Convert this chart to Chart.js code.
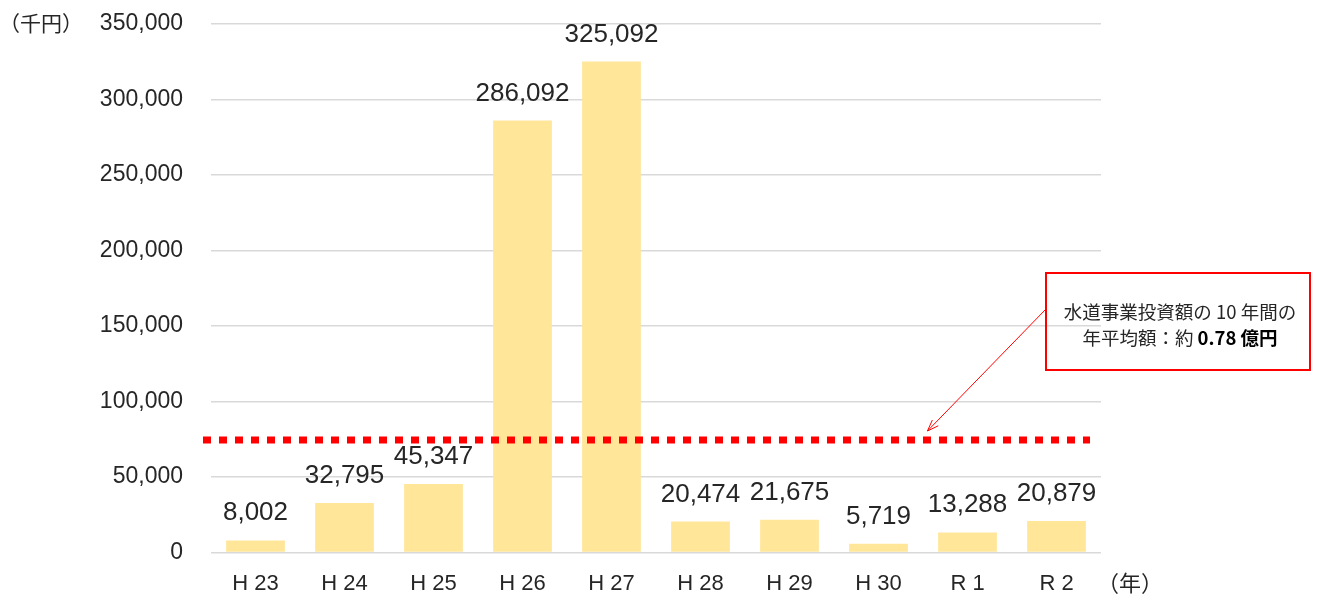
<!DOCTYPE html>
<html lang="ja">
<head>
<meta charset="utf-8">
<title>水道事業投資額</title>
<script src="https://cdn.jsdelivr.net/npm/chart.js@4/dist/chart.umd.min.js"></script>
<style>
  html, body { margin: 0; padding: 0; background: #fff; }
  #wrap { width: 1321px; height: 599px; position: relative; }
</style>
</head>
<body>
<div id="wrap"><canvas id="invChart" width="1321" height="599"></canvas></div>
<script>
// 年度ラベル
const years = ["H 23", "H 24", "H 25", "H 26", "H 27", "H 28", "H 29", "H 30", "R 1", "R 2"];
// 投資額（千円）
const amounts = [8002, 32795, 45347, 286092, 325092, 20474, 21675, 5719, 13288, 20879];
// 平均額の点線（図から読んだ位置）
const avgLineValue = [74500];
// y軸目盛
const yTicks = [0, 50000, 100000, 150000, 200000, 250000, 300000, 350000];

const NUM_FONT = "'Liberation Sans', Arial, sans-serif";
const JP_FONT = "'Noto Sans CJK JP', 'Noto Sans', sans-serif";
const TEXT_COLOR = "#262626";

// 棒の上に値を表示
const valueLabels = {
  id: "valueLabels",
  afterDatasetsDraw(chart) {
    const c = chart.ctx;
    const meta = chart.getDatasetMeta(0);
    c.save();
    c.font = "26px " + NUM_FONT;
    c.fillStyle = TEXT_COLOR;
    c.textAlign = "center";
    c.textBaseline = "alphabetic";
    meta.data.forEach((bar, i) => {
      c.fillText(amounts[i].toLocaleString("en-US"), bar.x, bar.y - 20);
    });
    c.restore();
  }
};

// 平均額の赤い点線と注記
const avgNote = {
  id: "avgNote",
  afterDatasetsDraw(chart) {
    const c = chart.ctx;
    const area = chart.chartArea;
    const y = chart.scales.y.getPixelForValue(avgLineValue[0]);
    c.save();
    c.strokeStyle = "#ff0000";
    c.lineWidth = 7;
    c.setLineDash([8, 8]);
    c.beginPath();
    c.moveTo(area.left - 8, y);
    c.lineTo(area.right - 11, y);
    c.stroke();
    c.setLineDash([]);

    // 注記の枠
    const bx = 1046, by = 273, bw = 264, bh = 97;
    c.lineWidth = 2;
    c.strokeRect(bx, by, bw, bh);

    // 矢印
    const xs = chart.scales.x;
    const step = xs.getPixelForValue(1) - xs.getPixelForValue(0);
    const ax = xs.getPixelForValue(7) + step * 0.55;
    const ay = y - 9;
    const sx = bx, sy = by + 36;
    c.lineWidth = 1;
    c.beginPath();
    c.moveTo(sx, sy);
    c.lineTo(ax, ay);
    c.stroke();
    const ang = Math.atan2(ay - sy, ax - sx);
    const hl = 12;
    c.beginPath();
    c.moveTo(ax - hl * Math.cos(ang - 0.35), ay - hl * Math.sin(ang - 0.35));
    c.lineTo(ax, ay);
    c.lineTo(ax - hl * Math.cos(ang + 0.35), ay - hl * Math.sin(ang + 0.35));
    c.stroke();

    // 注記テキスト
    const cx = bx + bw / 2 + 2;
    const fs = "18.5px ";
    c.fillStyle = TEXT_COLOR;
    c.textBaseline = "middle";
    c.textAlign = "center";
    c.font = fs + JP_FONT;
    c.fillText("水道事業投資額の 10 年間の", cx, by + 39);
    const partA = "年平均額：約 ";
    const partB = "0.78 億円";
    c.font = fs + JP_FONT;
    const wA = c.measureText(partA).width;
    c.font = "bold " + fs + JP_FONT;
    const wB = c.measureText(partB).width;
    const startX = cx - (wA + wB) / 2;
    c.textAlign = "left";
    c.font = fs + JP_FONT;
    c.fillText(partA, startX, by + 65);
    c.font = "bold " + fs + JP_FONT;
    c.fillStyle = "#000";
    c.fillText(partB, startX + wA, by + 65);

    // 単位
    c.fillStyle = TEXT_COLOR;
    c.font = "21px " + JP_FONT;
    c.textAlign = "left";
    c.fillText("（千円）", -1, area.top - 1);
    c.font = "22px " + JP_FONT;
    c.fillText("（年）", 1097, area.bottom + 30);
    c.restore();
  }
};

new Chart(document.getElementById("invChart").getContext("2d"), {
  type: "bar",
  data: {
    labels: years,
    datasets: [{
      label: "投資額",
      data: amounts,
      backgroundColor: "#ffe699",
      borderWidth: 0,
      barPercentage: 0.66,
      categoryPercentage: 1.0
    }]
  },
  options: {
    responsive: false,
    animation: false,
    devicePixelRatio: 1,
    layout: { padding: { top: 24, right: 220, bottom: 0, left: 0 } },
    plugins: {
      legend: { display: false },
      tooltip: { enabled: false }
    },
    scales: {
      x: {
        grid: { display: false, drawTicks: false },
        border: { display: false },
        ticks: {
          padding: 18,
          color: TEXT_COLOR,
          font: { family: NUM_FONT, size: 22 }
        },
        afterFit(scale) {
          scale.height = 46.5;
          scale.paddingLeft = 0;
          scale.paddingRight = 0;
        }
      },
      y: {
        min: 0,
        max: 350000,
        afterBuildTicks(scale) { scale.ticks = yTicks.map(v => ({ value: v })); },
        grid: { color: "#d9d9d9", lineWidth: 1.5, drawTicks: false },
        border: { display: false },
        ticks: {
          padding: 28,
          color: TEXT_COLOR,
          font: { family: NUM_FONT, size: 23 },
          callback: v => v.toLocaleString("en-US")
        },
        afterFit(scale) {
          scale.width = 211;
          scale.paddingTop = 0;
          scale.paddingBottom = 0;
        }
      }
    }
  },
  plugins: [valueLabels, avgNote]
});
</script>
</body>
</html>
